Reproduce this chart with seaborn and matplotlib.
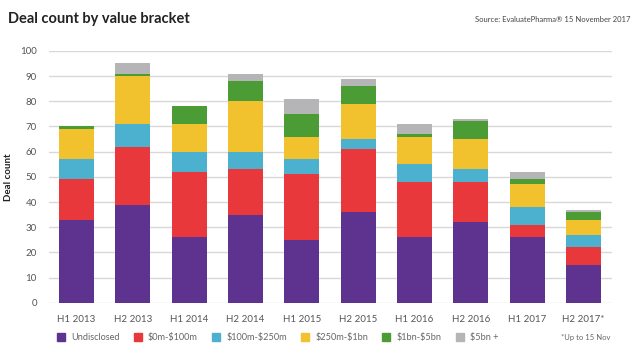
import numpy as np
import matplotlib
matplotlib.use("Agg")
import matplotlib.pyplot as plt
from matplotlib.lines import Line2D
import seaborn as sns

periods = ["H1 2013", "H2 2013", "H1 2014", "H2 2014", "H1 2015",
           "H2 2015", "H1 2016", "H2 2016", "H1 2017", "H2 2017*"]

undisclosed = [33, 39, 26, 35, 25, 36, 26, 32, 26, 15]
m0_100 = [16, 23, 26, 18, 26, 25, 22, 16, 5, 7]
m100_250 = [8, 9, 8, 7, 6, 4, 7, 5, 7, 5]
m250_1bn = [12, 19, 11, 20, 9, 14, 11, 12, 9, 6]
bn1_5 = [1, 1, 7, 8, 9, 7, 1, 7, 2, 3]
bn5_plus = [0, 4, 0, 3, 6, 3, 4, 1, 3, 1]

series_names = ["Undisclosed", "\\$0m-\\$100m", "\\$100m-\\$250m", "\\$250m-\\$1bn",
                "\\$1bn-\\$5bn", "\\$5bn +"]
series_vals = [undisclosed, m0_100, m100_250, m250_1bn, bn1_5, bn5_plus]
colors = ["#5e338f", "#e8383b", "#4bb1cf", "#f2c12e", "#4b9c35", "#b5b5b7"]

sns.set_style("white")
plt.rcParams['font.family'] = ['Lato', 'DejaVu Sans']

fig = plt.figure(figsize=(6.4, 3.53), dpi=100)
ax = fig.add_axes([0.077, 0.142, 0.879, 0.714])

bottom = np.zeros(len(periods))
for name, vals, col in zip(series_names, series_vals, colors):
    sns.barplot(x=periods, y=vals, bottom=bottom, color=col, width=0.62,
                saturation=1, linewidth=0, edgecolor=col, ax=ax, zorder=3)
    bottom += np.array(vals)

ax.set_ylim(0, 100)
ax.set_xlim(-0.48, 9.5)
ax.set_yticks(range(0, 101, 10))
ax.grid(axis="y", color="#d8d8d8", linewidth=1, zorder=0)
ax.set_axisbelow(True)
for s in ax.spines.values():
    s.set_visible(False)
ax.tick_params(axis="both", length=0, labelsize=7, colors="#555555")
ax.tick_params(axis="y", pad=9)
ax.tick_params(axis="x", pad=9)
ax.set_ylabel("Deal count", fontsize=7, fontweight="bold", color="#222222", labelpad=5)
ax.set_xlabel("")

fig.text(0.012, 0.945, "Deal count by value bracket", fontsize=10.5, fontweight="bold",
         color="#222222", ha="left", va="center")
fig.text(0.985, 0.945, "Source: EvaluatePharma\u00ae 15 November 2017", fontsize=5.5,
         color="#444444", ha="right", va="center")

handles = [Line2D([0], [0], marker="s", linestyle="", markersize=5.5,
                  markerfacecolor=c, markeredgecolor=c) for c in colors]
fig.legend(handles, series_names, loc="center left", bbox_to_anchor=(0.068, 0.043),
           ncol=6, frameon=False, fontsize=6.6, handletextpad=0.1, columnspacing=1.0,
           labelcolor="#666666")
fig.text(0.953, 0.043, "*Up to 15 Nov", fontsize=5.5, color="#666666",
         ha="right", va="center")

fig.savefig("out.png", dpi=100)
